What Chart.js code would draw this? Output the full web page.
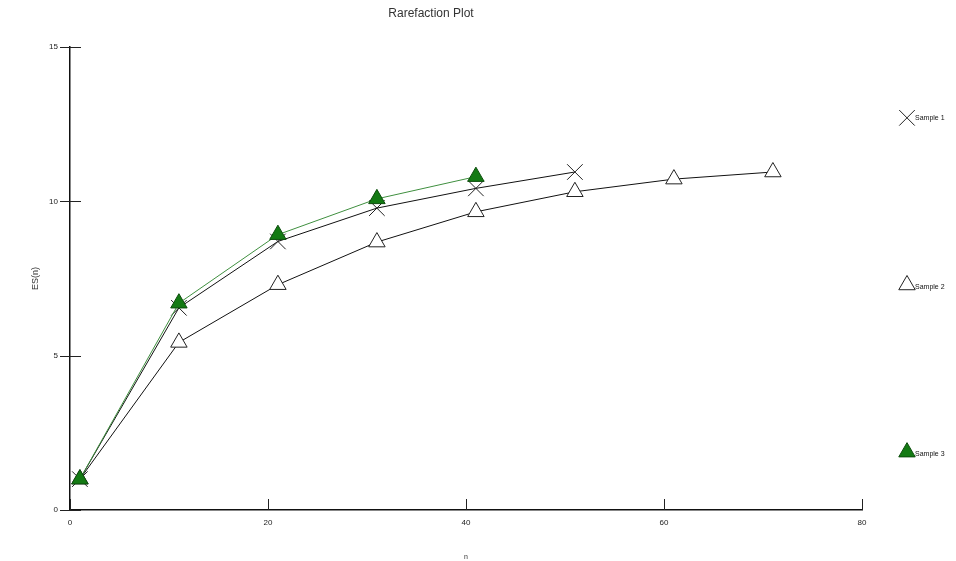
<!DOCTYPE html>
<html>
<head>
<meta charset="utf-8">
<title>Rarefaction Plot</title>
<script src="https://cdn.jsdelivr.net/npm/chart.js@4.4.1/dist/chart.umd.min.js"></script>
<style>
  html, body { margin: 0; padding: 0; background: #fff; }
  #wrap { width: 956px; height: 561px; position: relative; }
</style>
</head>
<body>
<div id="wrap"><canvas id="rare"></canvas></div>
<script>
// values
const sampleSizes = [1, 11, 21, 31, 41, 51, 61, 71];
const sample1 = [1, 6.55, 8.7, 9.78, 10.42, 10.95];
const sample2 = [1, 5.43, 7.3, 8.68, 9.66, 10.31, 10.72, 10.95];
const sample3 = [1, 6.7, 8.92, 10.08, 10.8];
const xTicks = [0, 20, 40, 60, 80];
const yTicks = [0, 5, 10, 15];
const seriesNames = ["Sample 1", "Sample 2", "Sample 3"];

const GREEN = "#137a13";

function toPoints(vals) {
  return vals.map((v, i) => ({ x: sampleSizes[i], y: v }));
}

const datasets = [
  {
    label: seriesNames[0],
    data: toPoints(sample1),
    borderColor: "#111",
    borderWidth: 1,
    pointStyle: "crossRot",
    pointRadius: 11,
    pointBorderColor: "#222",
    pointBorderWidth: 1,
    order: 1,
  },
  {
    label: seriesNames[1],
    data: toPoints(sample2),
    borderColor: "#111",
    borderWidth: 1,
    pointStyle: "triangle",
    pointRadius: 9.5,
    pointBackgroundColor: "#fff",
    pointBorderColor: "#222",
    pointBorderWidth: 1,
    order: 2,
  },
  {
    label: seriesNames[2],
    data: toPoints(sample3),
    borderColor: "#3f8f3f",
    borderWidth: 1,
    pointStyle: "triangle",
    pointRadius: 9.5,
    pointBackgroundColor: GREEN,
    pointBorderColor: "#0b4d0b",
    pointBorderWidth: 1,
    order: 0,
  },
];

// tick marks that cross into the plot, like the original
const tickMarks = {
  id: "tickMarks",
  afterDraw(chart) {
    const { ctx, chartArea, scales } = chart;
    ctx.save();
    ctx.strokeStyle = "#222";
    ctx.lineWidth = 1;
    ctx.beginPath();
    yTicks.forEach((v) => {
      const y = Math.round(scales.y.getPixelForValue(v)) + 0.5;
      ctx.moveTo(chartArea.left - 10, y);
      ctx.lineTo(chartArea.left + 11, y);
    });
    xTicks.forEach((v) => {
      const x = Math.round(scales.x.getPixelForValue(v)) + 0.5;
      ctx.moveTo(x, chartArea.bottom);
      ctx.lineTo(x, chartArea.bottom - 11);
    });
    ctx.stroke();
    ctx.restore();
  },
};

// legend spread down the right side
const sideLegend = {
  id: "sideLegend",
  afterDraw(chart) {
    const { ctx, chartArea } = chart;
    const h = chartArea.bottom - chartArea.top;
    ctx.save();
    datasets.forEach((ds, i) => {
      const y = chartArea.top + h * (0.153 + i * 0.361);
      const x = 907;
      ctx.fillStyle = ds.pointBackgroundColor || "#fff";
      ctx.strokeStyle = ds.pointBorderColor;
      ctx.lineWidth = 1;
      Chart.helpers.drawPoint(ctx, {
        pointStyle: ds.pointStyle,
        radius: ds.pointRadius,
        borderWidth: 1,
        rotation: 0,
      }, x, y);
      ctx.fillStyle = "#111";
      ctx.font = "7px 'Liberation Sans', Arial, sans-serif";
      ctx.textBaseline = "middle";
      ctx.textAlign = "left";
      ctx.fillText(ds.label, 915, y + (ds.pointStyle === "triangle" ? 2 : 0));
    });
    ctx.restore();
  },
};

const font = "'Liberation Sans', Arial, sans-serif";

new Chart(document.getElementById("rare"), {
  type: "line",
  data: { datasets },
  options: {
    responsive: true,
    maintainAspectRatio: false,
    animation: false,
    layout: { padding: { left: 0, right: 94, top: 0, bottom: 0 } },
    plugins: {
      legend: { display: false },
      tooltip: { enabled: false },
      title: {
        display: true,
        text: "Rarefaction Plot",
        color: "#333",
        font: { family: font, size: 12, weight: "normal" },
        padding: { top: 6, bottom: 26.6 },
      },
    },
    scales: {
      x: {
        type: "linear",
        min: 0,
        max: 80,
        afterBuildTicks: (s) => { s.ticks = xTicks.map((v) => ({ value: v })); },
        afterFit: (s) => { s.height = 51; },
        grid: { display: true, drawOnChartArea: false, drawTicks: false },
        border: { display: true, color: "#111", width: 1.5 },
        ticks: { color: "#222", padding: 8, maxRotation: 0, font: { family: font, size: 8 } },
        title: {
          display: true,
          text: "n",
          color: "#333",
          font: { family: font, size: 7 },
          padding: { top: 9, bottom: 0 },
        },
      },
      y: {
        type: "linear",
        min: 0,
        max: 15,
        afterBuildTicks: (s) => { s.ticks = yTicks.map((v) => ({ value: v })); },
        afterFit: (s) => { s.width = 70; },
        grid: { display: true, drawOnChartArea: false, drawTicks: false },
        border: { display: true, color: "#111", width: 1.5 },
        ticks: { color: "#222", padding: 12, font: { family: font, size: 8 } },
        title: {
          display: true,
          text: "ES(n)",
          color: "#333",
          font: { family: font, size: 9 },
          padding: { top: 30.5, bottom: 0 },
        },
      },
    },
  },
  plugins: [tickMarks, sideLegend],
});
</script>
</body>
</html>
